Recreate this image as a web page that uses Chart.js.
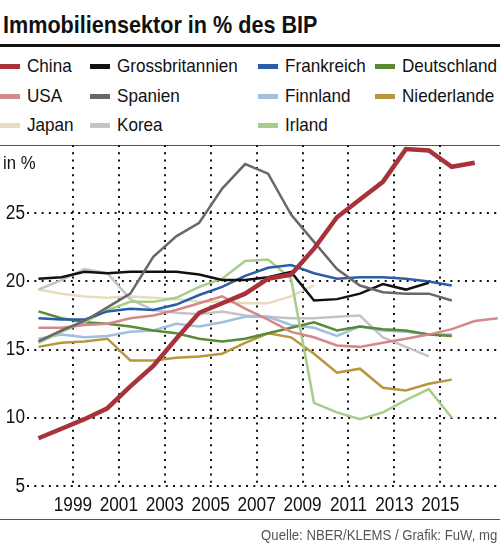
<!DOCTYPE html>
<html>
<head>
<meta charset="utf-8">
<script src="https://cdn.jsdelivr.net/npm/chart.js@4.4.1/dist/chart.umd.min.js"></script>
<style>
    body { margin: 0; background: #fff; font-family: "Liberation Sans", Arial, sans-serif; color: #111; }
    #wrap { position: relative; width: 500px; height: 545px; overflow: hidden; }
    .cond { position: absolute; white-space: nowrap; transform-origin: 0 0; }
    #title { left: 3px; top: 11px; font-size: 24px; font-weight: bold; transform: scaleX(0.9); }
    #rule { position: absolute; left: 0; top: 44px; width: 500px; height: 3px; background: #111; }
    #legend { position: absolute; left: 0; top: 52px; width: 500px; height: 92px; }
    .item { position: absolute; font-size: 19px; line-height: 24px; }
    .item span.sw { position: absolute; left: 0; top: 10px; width: 20px; height: 5px; }
    .item span.tx { position: absolute; left: 27px; top: 0; white-space: nowrap; transform: scaleX(0.9); transform-origin: 0 0; }
    #legline { position: absolute; left: 0; top: 145px; width: 500px; height: 1px; background: #555; }
    #unit { left: 3px; top: 152px; font-size: 19px; transform: scaleX(0.88); }
    #chartBox { position: absolute; left: 0; top: 140px; width: 500px; height: 380px; }
    #srcline { position: absolute; left: 0; top: 519px; width: 500px; height: 1px; background: #555; }
    #source { position: absolute; right: 3px; top: 527px; font-size: 14px; color: #555; white-space: nowrap; transform: scaleX(0.94); transform-origin: 100% 0; }
</style>
</head>
<body>
<div id="wrap">
    <div id="title" class="cond">Immobiliensektor in % des BIP</div>
    <div id="rule"></div>
    <div id="legend"></div>
    <div id="legline"></div>
    <div id="chartBox"><canvas id="chart" width="500" height="380"></canvas></div>
    <div id="unit" class="cond">in %</div>
    <div id="srcline"></div>
    <div id="source">Quelle: NBER/KLEMS / Grafik: FuW, mg</div>
</div>
<script>
// Jahre (x) und Achsenbeschriftungen
const years = [1997, 1998, 1999, 2000, 2001, 2002, 2003, 2004, 2005, 2006, 2007, 2008, 2009, 2010, 2011, 2012, 2013, 2014, 2015, 2016, 2017];
const xLabels = [1999, 2001, 2003, 2005, 2007, 2009, 2011, 2013, 2015];
const yTicks = [5, 10, 15, 20, 25];

// Werte in % des BIP
const china = [8.5, 9.2, 9.9, 10.7, 12.3, 13.8, 15.8, 17.7, 18.4, 19.1, 20.2, 20.5, 22.4, 24.7, 26.0, 27.3, 29.7, 29.6, 28.4, 28.7, null];
const usa = [16.6, 16.6, 16.8, 16.9, 17.3, 17.5, 17.9, 18.4, 18.9, 18.0, 17.2, 16.3, 15.9, 15.3, 15.2, 15.5, 15.8, 16.1, 16.5, 17.1, 17.3];
const japan = [19.4, 19.1, 18.9, 18.8, 18.9, 18.8, 18.7, 18.5, 18.5, 18.4, 18.4, 18.9, 19.7];
const grossbritannien = [20.2, 20.3, 20.7, 20.6, 20.7, 20.7, 20.7, 20.5, 20.1, 20.1, 20.3, 20.7, 18.6, 18.7, 19.1, 19.8, 19.4, 19.9];
const spanien = [15.6, 16.4, 17.1, 18.1, 19.1, 21.8, 23.3, 24.3, 26.8, 28.6, 27.9, 24.9, 22.9, 20.9, 19.7, 19.2, 19.1, 19.1, 18.6];
const korea = [19.4, 20.1, 20.9, 20.6, 18.7, 17.9, 17.7, 17.6, 17.8, 17.5, 17.4, 17.3, 17.3, 17.4, 17.5, 15.9, 15.2, 14.5];
const frankreich = [17.3, 17.2, 17.2, 17.8, 18.0, 17.9, 18.3, 19.0, 19.6, 20.4, 21.0, 21.2, 20.6, 20.2, 20.3, 20.3, 20.2, 20.0, 19.7];
const finnland = [15.8, 16.1, 15.9, 16.0, 16.3, 16.4, 16.9, 16.7, 17.0, 17.4, 17.4, 16.8, 16.6, 16.0, 16.7, 16.4, 16.3, 16.1, 16.1];
const irland = [15.5, 16.3, 17.0, 17.9, 18.5, 18.5, 18.8, 19.6, 20.2, 21.5, 21.6, 20.2, 11.1, 10.4, 9.9, 10.4, 11.3, 12.1, 10.0];
const deutschland = [17.8, 17.3, 17.0, 16.9, 16.7, 16.4, 16.2, 15.8, 15.6, 15.8, 16.2, 16.6, 17.0, 16.4, 16.7, 16.5, 16.4, 16.1, 16.0];
const niederlande = [15.2, 15.5, 15.6, 15.8, 14.2, 14.2, 14.4, 14.5, 14.7, 15.5, 16.2, 15.9, 14.7, 13.3, 13.6, 12.2, 12.0, 12.5, 12.8];

// Legende zeilenweise, wie im Original
const names = ['China', 'Grossbritannien', 'Frankreich', 'Deutschland', 'USA', 'Spanien', 'Finnland', 'Niederlande', 'Japan', 'Korea', 'Irland'];
const series = [china, grossbritannien, frankreich, deutschland, usa, spanien, finnland, niederlande, japan, korea, irland];
const colors = ['#a8323a', '#111111', '#2a5ca8', '#5a8a36', '#d4888c', '#6a6864', '#a0c0e0', '#b8963e', '#e8dcbe', '#c4c4c4', '#a8cc8a'];

const legendCols = [0, 90, 258, 375];
const legendRows = [2, 32, 61];

const legend = document.getElementById('legend');
names.forEach((name, i) => {
    const el = document.createElement('div');
    el.className = 'item';
    el.style.left = legendCols[i % 4] + 'px';
    el.style.top = legendRows[Math.floor(i / 4)] + 'px';
    el.innerHTML = `<span class="sw" style="background:${colors[i]}"></span><span class="tx">${name}</span>`;
    legend.appendChild(el);
});

// China zuletzt gezeichnet (oben): Index 0 liegt in Chart.js obenauf
const drawOrder = ['China', 'Spanien', 'Grossbritannien', 'Frankreich', 'USA', 'Irland', 'Deutschland', 'Finnland', 'Niederlande', 'Korea', 'Japan'];
const datasets = drawOrder.map(name => {
    const i = names.indexOf(name);
    return {
        label: name,
        data: series[i].map((v, k) => ({ x: years[k], y: v })),
        borderColor: colors[i],
        borderWidth: name === 'China' ? 4.5 : 2.5,
        pointRadius: 0,
        tension: 0,
        fill: false
    };
});

// Achsenbeschriftung schmal (kein Condensed-Font vorhanden)
const narrowTicks = {
    id: 'narrowTicks',
    afterDraw(chart) {
        const ctx = chart.ctx;
        const sx = 0.86;
        const xs = chart.scales.x;
        const ys = chart.scales.y;
        ctx.save();
        ctx.font = "20px 'Liberation Sans', Arial, sans-serif";
        ctx.fillStyle = '#111';
        ctx.textBaseline = 'middle';
        ctx.scale(sx, 1);
        ctx.textAlign = 'center';
        xs.ticks.forEach(t => {
            ctx.fillText(String(t.value + 0.5), xs.getPixelForValue(t.value) / sx, chart.chartArea.bottom + 19.5);
        });
        ctx.textAlign = 'right';
        ys.ticks.forEach(t => {
            ctx.fillText(String(t.value), 25 / sx, ys.getPixelForValue(t.value));
        });
        ctx.restore();
    }
};

new Chart(document.getElementById('chart').getContext('2d'), {
    type: 'line',
    data: { datasets },
    plugins: [narrowTicks],
    options: {
        responsive: false,
        animation: false,
        layout: { padding: { top: 5, right: 0, left: 0, bottom: 0 } },
        plugins: { legend: { display: false }, tooltip: { enabled: false } },
        scales: {
            x: {
                type: 'linear',
                min: 1996.5,
                max: 2017.1,
                afterBuildTicks: axis => { axis.ticks = xLabels.map(v => ({ value: v - 0.5 })); },
                afterFit: axis => { axis.height = 34; },
                ticks: { display: false },
                grid: { color: '#111', lineWidth: 2, drawTicks: false },
                border: { display: false, dash: [2, 5.3] }
            },
            y: {
                min: 5,
                max: 30,
                afterBuildTicks: axis => { axis.ticks = yTicks.map(v => ({ value: v })); },
                afterFit: axis => { axis.width = 27; },
                ticks: { display: false },
                grid: { color: '#111', lineWidth: 2, drawTicks: false },
                border: { display: false, dash: [2, 5.3] }
            }
        }
    }
});
</script>
</body>
</html>
